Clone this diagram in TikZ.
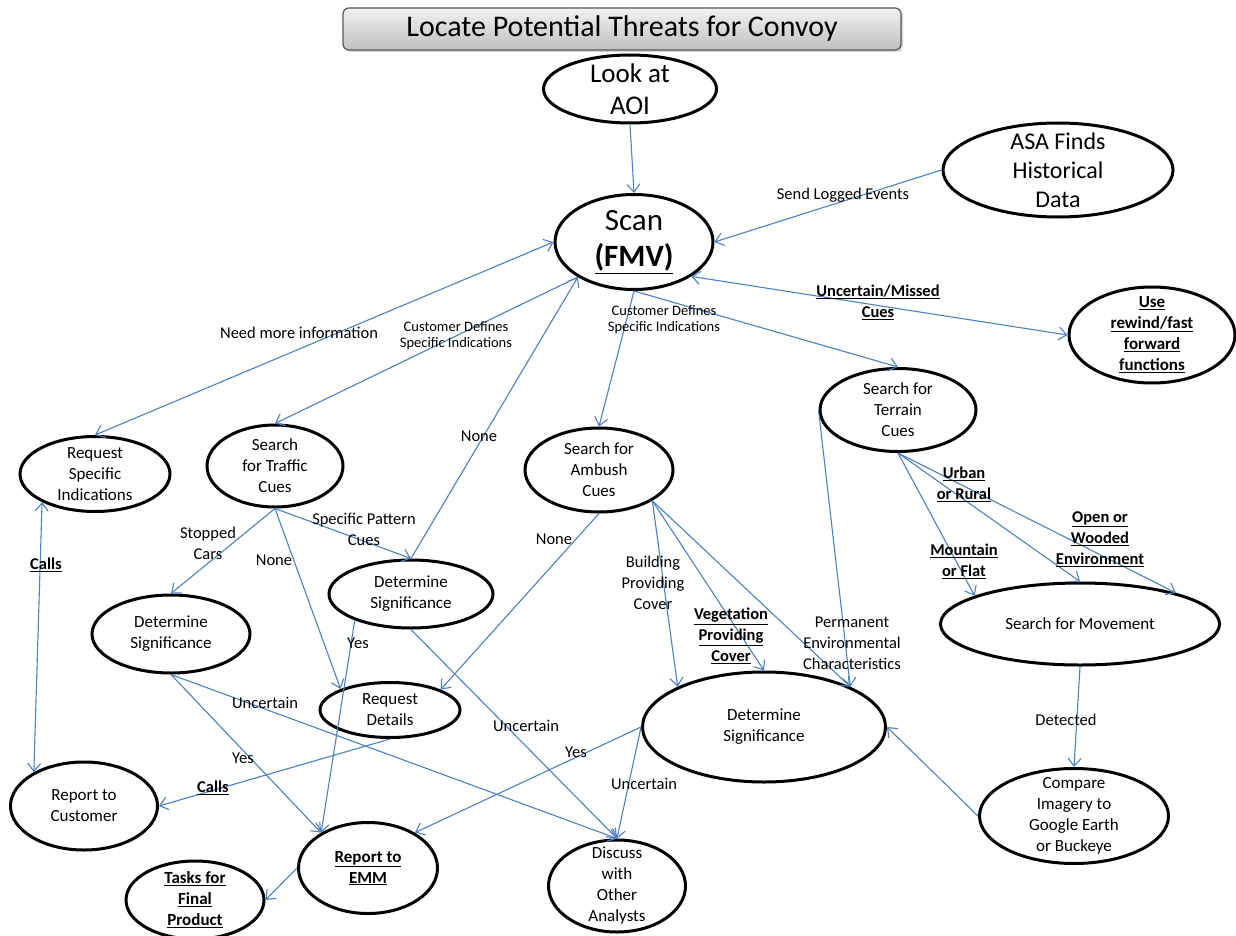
\documentclass[tikz,border=0pt]{standalone}
\usepackage{fontspec}
\setmainfont{Carlito}
\usetikzlibrary{shapes.geometric,arrows.meta,shadows}
\definecolor{edgeblue}{RGB}{79,129,189}
\newcommand\bu[1]{\textbf{\underline{#1}}}
\begin{document}
\begin{tikzpicture}[x=1pt,y=-1pt,
  ell/.style={draw=black, line width=3pt, ellipse, inner sep=0pt, fill=white},
  ntext/.style={font=\fontsize{17}{21}\selectfont, align=center, inner sep=0pt, text=black},
  lab/.style={font=\fontsize{16.5}{21}\selectfont, align=center, inner sep=0pt},
  slab/.style={font=\fontsize{14.5}{16}\selectfont, align=center, inner sep=0pt},
  edge/.style={draw=edgeblue, line width=1.1pt, -{Straight Barb[length=8pt,width=13pt]}},
  edgeb/.style={draw=edgeblue, line width=1.1pt, {Straight Barb[length=8pt,width=13pt]}-{Straight Barb[length=8pt,width=13pt]}}
]
\useasboundingbox (0,0) rectangle (1236,936);
\fill[white] (0,0) rectangle (1236,936);

% title
\node[draw=black!65, line width=1.2pt, rounded corners=6pt, top color=black!5, bottom color=black!25,
      minimum width=558pt, minimum height=42pt, inner sep=0pt,
      drop shadow={shadow xshift=2pt, shadow yshift=-2pt, opacity=0.35},
      font=\fontsize{30}{32}\selectfont] (title) at (622,29) {Locate Potential Threats for Convoy};

% nodes
\node[ell, minimum width=173pt, minimum height=68pt,
  label={[ntext, font=\fontsize{27}{32}\selectfont]center:{Look at\\AOI}}] (aoi) at (630,89) {};
\node[ell, minimum width=158pt, minimum height=95pt,
  label={[ntext, font=\fontsize{31}{36}\selectfont]center:{Scan\\\bu{(FMV)}}}] (scan) at (634,242) {};
\node[ell, minimum width=230pt, minimum height=94pt,
  label={[ntext, font=\fontsize{24}{29}\selectfont]center:{ASA Finds\\Historical\\Data}}] (asa) at (1058,170) {};
\node[ell, minimum width=166pt, minimum height=96pt,
  label={[ntext]center:{\bu{Use}\\\bu{rewind/fast}\\\bu{forward}\\\bu{functions}}}] (rew) at (1152,335) {};
\node[ell, minimum width=156pt, minimum height=83pt,
  label={[ntext]center:{Search for\\Terrain\\Cues}}] (terr) at (898,410) {};
\node[ell, minimum width=150pt, minimum height=75pt,
  label={[ntext]center:{Request\\Specific\\Indications}}] (rsi) at (95,474) {};
\node[ell, minimum width=136pt, minimum height=82pt,
  label={[ntext]center:{Search\\for Traffic\\Cues}}] (traf) at (275,466) {};
\node[ell, minimum width=148pt, minimum height=84pt,
  label={[ntext]center:{Search for\\Ambush\\Cues}}] (amb) at (599,470) {};
\node[ell, minimum width=158pt, minimum height=78pt,
  label={[ntext]center:{Determine\\Significance}}] (dsL) at (171,634) {};
\node[ell, minimum width=164pt, minimum height=68pt,
  label={[ntext]center:{Determine\\Significance}}] (dsM) at (411,594) {};
\node[ell, minimum width=279pt, minimum height=82pt,
  label={[ntext]center:{Search for Movement}}] (sfm) at (1080,624) {};
\node[ell, minimum width=140pt, minimum height=55pt,
  label={[ntext]center:{Request\\Details}}] (rd) at (390,710) {};
\node[ell, minimum width=243pt, minimum height=110pt,
  label={[ntext]center:{Determine\\Significance}}] (dsB) at (764,727) {};
\node[ell, minimum width=147pt, minimum height=88pt,
  label={[ntext]center:{Report to\\Customer}}] (rc) at (84,806) {};
\node[ell, minimum width=189pt, minimum height=95pt,
  label={[ntext]center:{Compare\\Imagery to\\Google Earth\\or Buckeye}}] (cmp) at (1074,816) {};
\node[ell, minimum width=139pt, minimum height=91pt,
  label={[ntext]center:{\bu{Report to}\\\bu{EMM}}}] (emm) at (368,868) {};
\node[ell, minimum width=138pt, minimum height=78pt,
  label={[ntext]center:{\bu{Tasks for}\\\bu{Final}\\\bu{Product}}}] (tasks) at (195,900) {};
\node[ell, minimum width=137pt, minimum height=92pt,
  label={[ntext]center:{Discuss\\with\\Other\\Analysts}}] (disc) at (617,886) {};

% connectors
\draw[edge] (aoi.south) -- (scan.north);
\draw[edge] (asa.west) -- (scan.east);
\draw[edgeb] (scan.west) -- (rsi.north);
\draw[edge] (scan.212) -- (traf.north);
\draw[edge] (scan.south) -- (amb.north);
\draw[edgeb] (scan.329) -- (rew.west);
\draw[edge] (scan.south) -- (terr.north);
\draw[edgeb] (rsi.208) -- (rc.146);
\draw[edge] (traf.south) -- (dsL.north);
\draw[edge] (traf.south) -- (rd.157);
\draw[edge] (traf.south) -- (dsM.north);
\draw[edge] (dsM.north) -- (scan.212);
\draw[edge] (dsM.205) -- (emm.143);
\draw[edge] (dsM.south) -- (disc.north);
\draw[edge] (amb.south) -- (rd.22);
\draw[edge] (amb.330) -- (dsB.155);
\draw[edge] (amb.330) -- (dsB.north);
\draw[edge] (amb.330) -- (dsB.25);
\draw[edge] (terr.west) -- (dsB.25);
\draw[edge] (terr.south) -- (sfm.165);
\draw[edge] (terr.south) -- (sfm.north);
\draw[edge] (terr.south) -- (sfm.18);
\draw[edge] (sfm.south) -- (cmp.north);
\draw[edge] (cmp.west) -- (dsB.east);
\draw[edge] (dsB.west) -- (emm.37);
\draw[edge] (dsB.west) -- (disc.north);
\draw[edge] (dsL.south) -- (emm.143);
\draw[edge] (dsL.south) -- (disc.north);
\draw[edge] (rd.south) -- (rc.east);
\draw[edge] (emm.west) -- (tasks.east);

% labels
\node[lab] (lSend) at (843,195) {Send Logged Events};
\node[lab] (lNeed) at (299,333) {Need more information};
\node[slab] (lCust1) at (456,336) {Customer Defines\\Specific Indications};
\node[slab] (lCust2) at (664,320) {Customer Defines\\Specific Indications};
\node[lab] (lUnc) at (878,302) {\bu{Uncertain/Missed}\\\bu{Cues}};
\node[lab] (lCalls1) at (46,565) {\bu{Calls}};
\node[lab] (lStop) at (208,543) {Stopped\\Cars};
\node[lab] (lNone1) at (274,560) {None};
\node[lab] (lSpec) at (364,529) {Specific Pattern\\Cues};
\node[lab] (lNone2) at (479,436) {None};
\node[lab] (lYes1) at (358,643) {Yes};
\node[lab] (lUnc1) at (526,726) {Uncertain};
\node[lab] (lNone3) at (554,539) {None};
\node[lab] (lBuild) at (653,583) {Building\\Providing\\Cover};
\node[lab] (lVeg) at (731,636) {\bu{Vegetation}\\\bu{Providing}\\\bu{Cover}};
\node[lab] (lPerm) at (852,643) {Permanent\\Environmental\\Characteristics};
\node[lab] (lMount) at (964,561) {\bu{Mountain}\\\bu{or Flat}};
\node[lab] (lUrban) at (964,484) {\bu{Urban}\\\bu{or Rural}};
\node[lab] (lOpen) at (1100,539) {\bu{Open or}\\\bu{Wooded}\\\bu{Environment}};
\node[lab] (lDet) at (1066,720) {Detected};
\node[lab] (lYes2) at (576,752) {Yes};
\node[lab] (lUnc2) at (644,784) {Uncertain};
\node[lab] (lYes3) at (243,758) {Yes};
\node[lab] (lUnc3) at (265,703) {Uncertain};
\node[lab] (lCalls2) at (213,788) {\bu{Calls}};
\end{tikzpicture}
\end{document}
